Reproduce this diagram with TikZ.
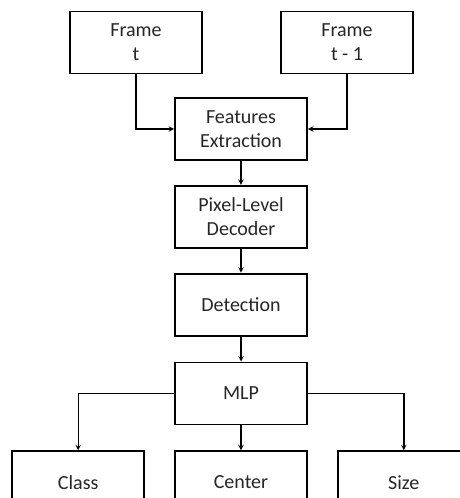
\documentclass[tikz,border=0pt]{standalone}
\usepackage{fontspec}
\setmainfont{Carlito}
\usepackage{tikz}
\usetikzlibrary{arrows, positioning}
\tikzstyle{block} = [
	rectangle,
	minimum width=132pt,
	minimum height=62pt,
	inner sep=0pt,
	text centered,
	align=center,
	line width=1.8pt,
	draw=black,
	text=black!85,
	font=\fontsize{20}{24}\selectfont
]
\tikzstyle{arrow} = [line width=1.4pt, ->, >=stealth]

\begin{document}
\begin{tikzpicture}[x=1pt, y=1pt]
	\useasboundingbox (0,0) rectangle (460,-498);
	\clip (0,0) rectangle (460,-498);
	\node (feat) [block] at (241,-129) {Features\\Extraction};
	\node (framet) [block] at (136,-42.5) {Frame\\t};
	\node (frameprev) [block] at (347,-42.5) {Frame\\t - 1};
	\node (decoder) [block, below=24pt of feat] {Pixel-Level\\Decoder};
	\node (detect) [block, below=24pt of decoder] {Detection};
	\node (mlp) [block, below=25pt of detect] {MLP};
	\node (center) [block, below=25pt of mlp] {Center};
	\node (class) [block, below left=25pt and 29pt of mlp] {Class};
	\node (size) [block, below right=25pt and 29pt of mlp] {Size};
	\draw [arrow] (framet.south) |- (feat.west);
	\draw [arrow] (frameprev.south) |- (feat.east);
	\draw [arrow] (feat) -- (decoder);
	\draw [arrow] (decoder) -- (detect);
	\draw [arrow] (detect) -- (mlp);
	\draw [arrow] (mlp) -- (center);
	\draw [arrow] (mlp.west) -| (class.north);
	\draw [arrow] (mlp.east) -| (size.north);
\end{tikzpicture}
\end{document}
